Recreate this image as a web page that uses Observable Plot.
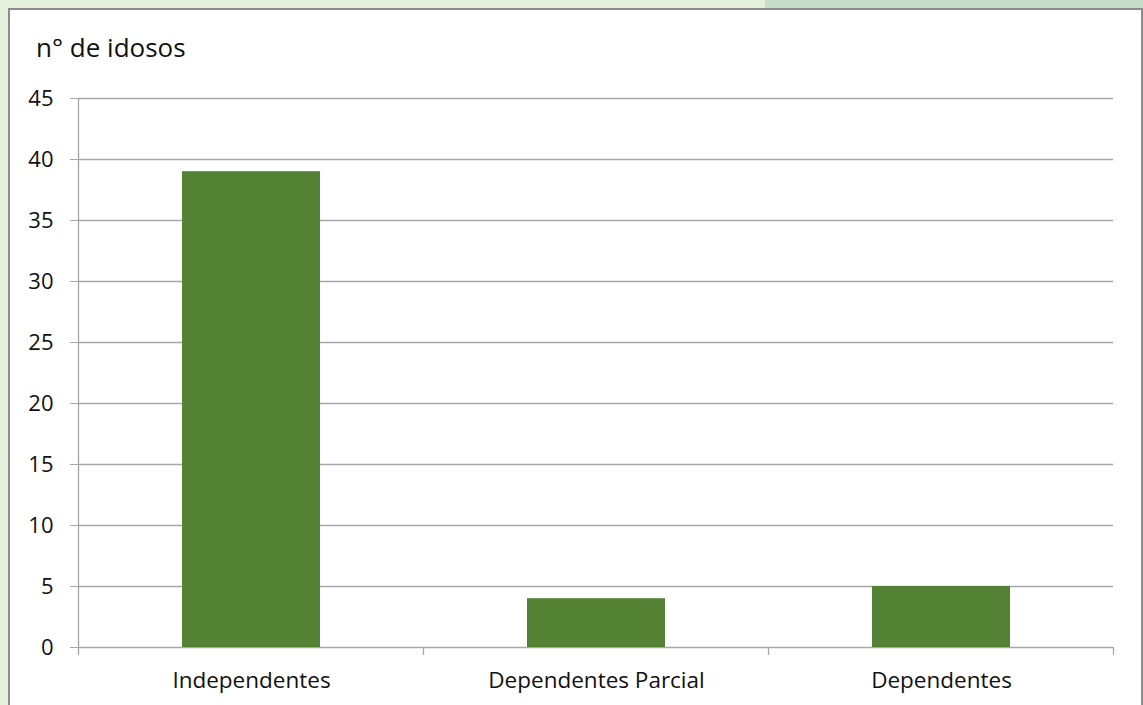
<!DOCTYPE html>
<html>
<head>
<meta charset="utf-8">
<script src="https://cdn.jsdelivr.net/npm/d3@7"></script>
<script src="https://cdn.jsdelivr.net/npm/@observablehq/plot@0.6"></script>
<style>
  html, body { margin: 0; padding: 0; }
  body { width: 1143px; height: 705px; background: #e4efdc; position: relative; overflow: hidden; font-family: "Open Sans", "Noto Sans", sans-serif; }
  #tab { position: absolute; left: 765px; top: 0; width: 378px; height: 9px; background: #c5dfcb; }
  #panel { position: absolute; left: 8px; top: 8px; width: 1131px; height: 705px; background: #fff; border: 2px solid #8c8c8c; border-bottom: none; }
  #title { position: absolute; left: 36px; top: 30px; font-size: 26px; line-height: 1.362; color: #111; }
  #chart { position: absolute; left: 0; top: 0; }
</style>
</head>
<body>
<div id="tab"></div>
<div id="panel"></div>
<div id="title">n° de idosos</div>
<div id="chart"></div>
<script>
const categories = ["Independentes", "Dependentes Parcial", "Dependentes"];
const values = [39, 4, 5];
const yTicks = [0, 5, 10, 15, 20, 25, 30, 35, 40, 45];

const data = categories.map((c, i) => ({ category: c, value: values[i] }));

const chart = Plot.plot({
  width: 1143,
  height: 705,
  marginLeft: 78,
  marginRight: 30,
  marginTop: 98,
  marginBottom: 58,
  style: { background: "transparent", fontFamily: "'Open Sans', sans-serif", fontSize: "22px", color: "#111" },
  x: { domain: categories, paddingInner: 0.6, paddingOuter: 0.3, label: null },
  y: { domain: [0, 45], ticks: yTicks, label: null },
  marks: [
    Plot.gridY(yTicks, { stroke: "#a6a6a6", strokeOpacity: 1, strokeWidth: 1.3 }),
    Plot.barY(data, { x: "category", y: "value", fill: "#548235" }),
    Plot.axisY({ ticks: yTicks, tickSize: 8, tickPadding: 17, stroke: "#a6a6a6", fill: "#111", fontSize: 22 }),
    Plot.axisX({ tickSize: 0, tickPadding: 25, fill: "#111", fontSize: 22.5 })
  ]
});
document.getElementById("chart").appendChild(chart);

// Axis line and category separator ticks derived from the scales
const xs = chart.scale("x");
const ys = chart.scale("y");
const svg = d3.select(chart);
const gap = (xs.step - xs.bandwidth) / 2;
const bounds = categories.map(c => xs.apply(c) - gap);
bounds.push(xs.apply(categories[categories.length - 1]) + xs.bandwidth + gap);
const y0 = ys.apply(0);
const yTop = ys.apply(45);
const g = svg.append("g").attr("stroke", "#a6a6a6").attr("stroke-width", 1.3);
g.append("line").attr("x1", bounds[0]).attr("x2", bounds[0]).attr("y1", yTop).attr("y2", y0 + 8);
bounds.slice(1).forEach(b => {
  g.append("line").attr("x1", b).attr("x2", b).attr("y1", y0).attr("y2", y0 + 8);
});
</script>
</body>
</html>
